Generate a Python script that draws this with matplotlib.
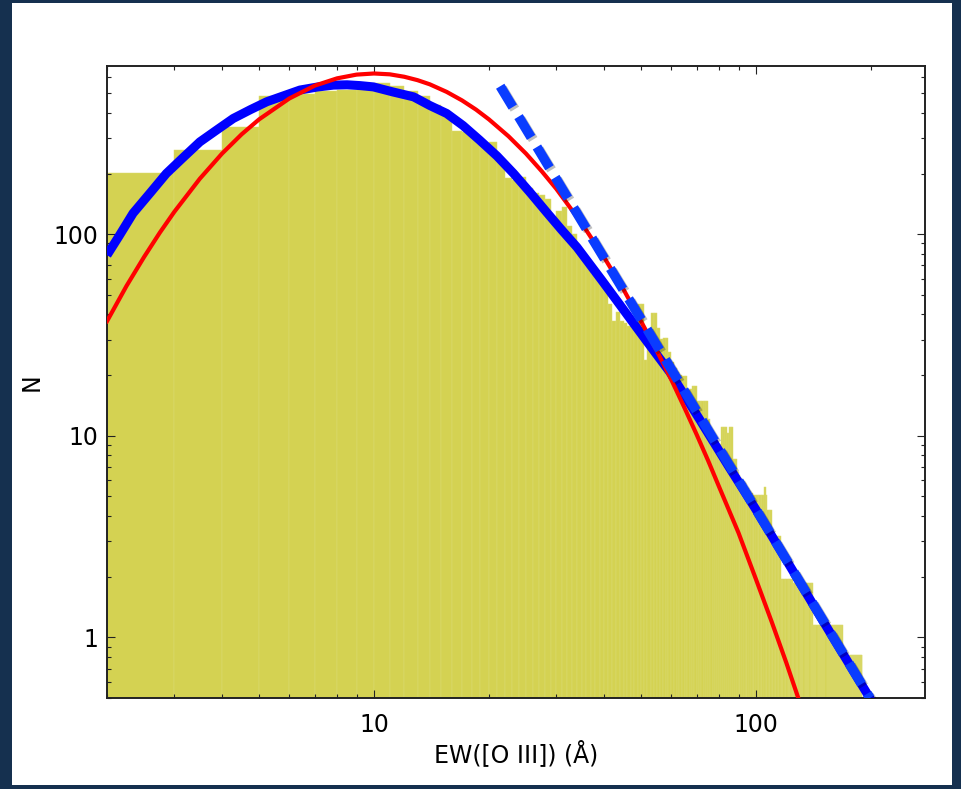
import numpy as np
import matplotlib
matplotlib.use("Agg")
import matplotlib.pyplot as plt
import matplotlib.patheffects as pe
from matplotlib.patches import Rectangle
from matplotlib.ticker import LogLocator, NullFormatter

# histogram, bins 1 A wide, left edges 2..189
bin_left = list(range(2, 190))
counts = [
    201, 261, 340, 485, 495, 514, 520, 525,                # 2-9
    565, 542, 514, 483, 437, 390, 325, 320, 300, 275,       # 10-19
    285, 230, 190, 185, 191, 170, 160, 156, 150, 120,       # 20-29
    130, 136, 110, 100, 85, 78, 70, 63, 61, 61,             # 30-39
    58, 45, 37, 41, 37, 36, 35, 34, 33, 45,                 # 40-49
    45, 23.7, 30, 40.6, 40.6, 34, 30, 30.4, 30.4, 26,       # 50-59
    23, 21.5, 20.5, 20, 19.6, 19.6, 17, 17, 17.6, 17.6,     # 60-69
    14.7, 14.7, 14.7, 14.7, 14.7, 12, 9.5, 9.5, 9.2, 9.0,   # 70-79
    9.0, 10.9, 10.9, 10.9, 10.2, 10.9, 10.9, 7.55, 7.55, 6.5,  # 80-89
    6.3, 6.1, 5.9, 5.7, 5.5, 5.4, 5.2, 5.1, 5.0, 5.0,       # 90-99
    5.0, 5.0, 5.0, 5.0, 5.0, 5.5, 5.0, 4.2, 4.2, 4.2,       # 100-109
    3.1, 3.1, 3.1, 3.1, 3.1, 3.1, 1.85, 1.85, 1.85, 1.85,   # 110-119
    1.85, 1.85, 1.85, 1.85, 1.85, 1.75, 1.75, 1.75, 1.75, 1.75,  # 120-129
    1.75, 1.75, 1.75, 1.75, 1.75, 1.75, 1.75, 1.75, 1.75, 1.75,  # 130-139
    1.75, 1.05, 1.05, 1.05, 1.05, 1.05, 1.05, 1.05, 1.05, 1.05,  # 140-149
    1.05, 1.05, 1.05, 1.05, 1.05, 1.05, 1.05, 1.05, 1.05, 1.05,  # 150-159
    1.05, 1.05, 1.05, 1.05, 1.05, 1.05, 1.05, 1.05, 1.05, 0.72,  # 160-169
    0.72, 0.72, 0.72, 0.72, 0.72, 0.72, 0.72, 0.72, 0.72, 0.72,  # 170-179
    0.72, 0.72, 0.72, 0.72, 0.72, 0.72, 0.72, 0.72, 0.72, 0.72,  # 180-189
]

# log-normal fit (red)
red_ew = [2, 2.25, 2.5, 2.75, 3, 3.5, 4, 4.5, 5, 6, 7, 8, 9, 10, 11, 12, 13,
          14, 15.5, 17, 18.5, 20, 22.5, 25, 27.5, 30, 35, 40, 45, 50, 55, 60,
          65, 70, 75, 80, 90, 100, 110, 120, 130]
red_n = [37, 55.4, 77, 101.8, 129, 188.5, 251, 312.7, 371, 471, 546, 593, 619,
         627, 621, 604, 581, 554, 508, 461, 415, 371, 306, 251, 205, 168, 113,
         77, 53.2, 37, 26.4, 19, 13.75, 10.1, 7.5, 5.6, 3.3, 1.94, 1.19, 0.75,
         0.48]

# combined fit (blue solid)
blue_ew = [2.0, 2.15, 2.34, 2.6, 2.86, 3.15, 3.50, 3.85, 4.28, 4.75, 5.24, 5.8,
           6.40, 7.1, 7.83, 8.5, 9.19, 9.96, 11.2, 12.7, 14.0, 15.5, 17.1,
           18.9, 21.0, 23.2, 25.7, 28.3, 31.0, 34.0, 39.5, 45.9, 51.8, 59.6,
           71.3, 85, 100, 150, 200]
blue_n = [78.7, 97.8, 127, 161, 200, 238, 287, 326, 375, 415, 454, 486, 519,
          537, 549, 551, 546, 538, 508, 480, 435, 397, 346, 293, 244, 200, 160,
          128.6, 105, 86.1, 59, 40.1, 29.4, 20.6, 12.0, 7.0, 4.30, 1.20, 0.489]

# power-law tail (blue dashed)
dash_ew = [21.4, 198.8]
dash_n = [542, 0.5]

x_ticks = [10, 100]
y_ticks = [1, 10, 100]

plt.rcParams['font.family'] = ['DejaVu Sans']

fig = plt.figure(figsize=(9.61, 7.89), dpi=100, facecolor='#15304f')
fig.patches.append(Rectangle((12 / 961, 4 / 789), 940 / 961, 782 / 789,
                             transform=fig.transFigure, facecolor='white',
                             edgecolor='none', zorder=-10))
ax = fig.add_axes([107 / 961, 1 - 698 / 789, 818 / 961, 632 / 789])
ax.set_xscale('log')
ax.set_yscale('log')

ax.bar(bin_left, counts, width=1, align='edge', bottom=0.1,
       color='#d4d252', edgecolor='#dcdb72', linewidth=0.35, zorder=1)

ax.plot(blue_ew, blue_n, color='#0000ff', lw=6.5, solid_capstyle='butt',
        solid_joinstyle='round', zorder=3)
ax.plot(red_ew, red_n, color='#ff0000', lw=3, solid_joinstyle='round', zorder=4)
ax.plot(dash_ew, dash_n, color='#0a3cff', lw=7, dashes=(2.5, 1.15),
        dash_capstyle='butt', zorder=5,
        path_effects=[pe.SimpleLineShadow(offset=(1.5, -1.5), shadow_color='k',
                                          alpha=0.25), pe.Normal()])

ax.set_xlim(2, 277)
ax.set_ylim(0.5, 683)

ax.set_xticks(x_ticks)
ax.set_xticklabels([str(v) for v in x_ticks])
ax.set_yticks(y_ticks)
ax.set_yticklabels([str(v) for v in y_ticks])
ax.xaxis.set_minor_locator(LogLocator(base=10, subs=np.arange(2, 10)))
ax.yaxis.set_minor_locator(LogLocator(base=10, subs=np.arange(2, 10)))
ax.xaxis.set_minor_formatter(NullFormatter())
ax.yaxis.set_minor_formatter(NullFormatter())

ax.tick_params(which='both', direction='in', top=True, right=True,
               width=0.8, color='#222222')
ax.tick_params(which='major', length=6, labelsize=17)
ax.tick_params(which='minor', length=3.2)
ax.tick_params(axis='x', which='major', pad=11)
ax.tick_params(axis='y', which='major', pad=6)
for s in ax.spines.values():
    s.set_linewidth(1.4)
    s.set_color('#222222')

ax.set_xlabel('EW([O III]) (Å)', fontsize=17)
ax.set_ylabel('N', fontsize=17)
ax.xaxis.set_label_coords(0.5, -0.066)
ax.yaxis.set_label_coords(-0.077, 0.5)

fig.savefig('out.png', dpi=100, facecolor=fig.get_facecolor())
